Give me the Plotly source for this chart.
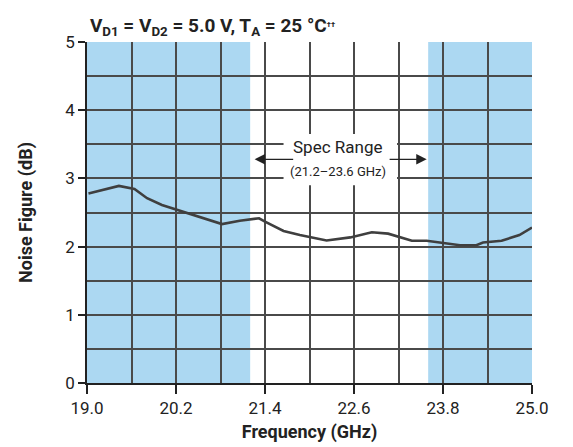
import plotly.graph_objects as go

freq_ghz = [19.02, 19.43, 19.64, 19.81, 20.01, 20.21, 20.82, 21.06, 21.32, 21.40,
            21.65, 21.87, 22.23, 22.55, 22.84, 23.06, 23.38, 23.58, 23.80, 24.03,
            24.25, 24.34, 24.59, 24.83, 25.0]
noise_figure_db = [2.78, 2.89, 2.845, 2.71, 2.61, 2.54, 2.33, 2.38, 2.415, 2.365,
                   2.23, 2.17, 2.09, 2.135, 2.21, 2.19, 2.085, 2.085, 2.05, 2.02,
                   2.02, 2.06, 2.085, 2.17, 2.28]
spec_low, spec_high = 21.2, 23.6
x_range = [19.0, 25.0]
y_range = [0, 5]
x_ticks = [19.0, 20.2, 21.4, 22.6, 23.8, 25.0]

FONT = "Roboto, Arial, sans-serif"
GRID = "#4a4a4a"
SHADE = "#acd8f2"

fig = go.Figure()
fig.add_trace(go.Scatter(x=freq_ghz, y=noise_figure_db, mode="lines",
                         line=dict(color="#3f3f3f", width=2.6), showlegend=False))

# shaded out-of-spec regions (below gridlines)
for x0, x1 in [(x_range[0], spec_low), (spec_high, x_range[1])]:
    fig.add_shape(type="rect", xref="x", yref="y", x0=x0, x1=x1, y0=y_range[0], y1=y_range[1],
                  fillcolor=SHADE, line_width=0, layer="below")

# white box behind the spec-range label
fig.add_shape(type="rect", xref="x", yref="y", x0=21.65, x1=23.18, y0=2.9, y1=3.65,
              fillcolor="white", line_width=0, layer="between")

fig.add_annotation(x=22.38, y=3.46, xref="x", yref="y", text="Spec Range", showarrow=False,
                   font=dict(family=FONT, size=17, color="#222"))
fig.add_annotation(x=22.38, y=3.1, xref="x", yref="y", text="(21.2–23.6 GHz)", showarrow=False,
                   font=dict(family=FONT, size=13, color="#222"))
for tail, head in [(21.80, 21.26), (23.06, 23.58)]:
    fig.add_annotation(x=head, y=3.28, ax=tail, ay=3.28, xref="x", yref="y", axref="x", ayref="y",
                       text="", showarrow=True, arrowhead=2, arrowsize=1.6, arrowwidth=1.3,
                       arrowcolor="#222")

fig.update_layout(
    width=573, height=447,
    margin=dict(l=79, r=49, t=34, b=72),
    paper_bgcolor="white", plot_bgcolor="white",
    font=dict(family=FONT, size=17, color="#222"),
    title=dict(text="<b>V<sub>D1</sub> = V<sub>D2</sub> = 5.0 V, T<sub>A</sub> = 25 °C"
                    "<span style='font-size:11px'><sup>††</sup></span></b>",
               x=0.143, xanchor="left", y=0.962, yanchor="middle", yref="container",
               font=dict(family=FONT, size=19, color="#222")),
    xaxis=dict(range=x_range, tickvals=x_ticks, tickformat=".1f",
               showgrid=True, gridcolor=GRID, gridwidth=1.5,
               minor=dict(dtick=0.6, tick0=19.0, showgrid=True, gridcolor=GRID, gridwidth=1.5),
               showline=True, linecolor="#222", linewidth=1.5,
               ticks="outside", ticklen=9, tickcolor="#222", tickwidth=1.5,
               zeroline=False,
               title=dict(text="<b>Frequency (GHz)</b>", font=dict(size=18), standoff=8),
               tickfont=dict(size=17)),
    yaxis=dict(range=y_range, dtick=1, tick0=0,
               showgrid=True, gridcolor=GRID, gridwidth=1.5,
               minor=dict(dtick=0.5, tick0=0, showgrid=True, gridcolor=GRID, gridwidth=1.5),
               showline=True, linecolor="#222", linewidth=1.5,
               ticks="outside", ticklen=7, tickcolor="#222", tickwidth=1.5,
               zeroline=False,
               title=dict(text="<b>Noise Figure (dB)</b>", font=dict(size=18), standoff=28),
               tickfont=dict(size=17)),
)

fig.write_html("out.html")
